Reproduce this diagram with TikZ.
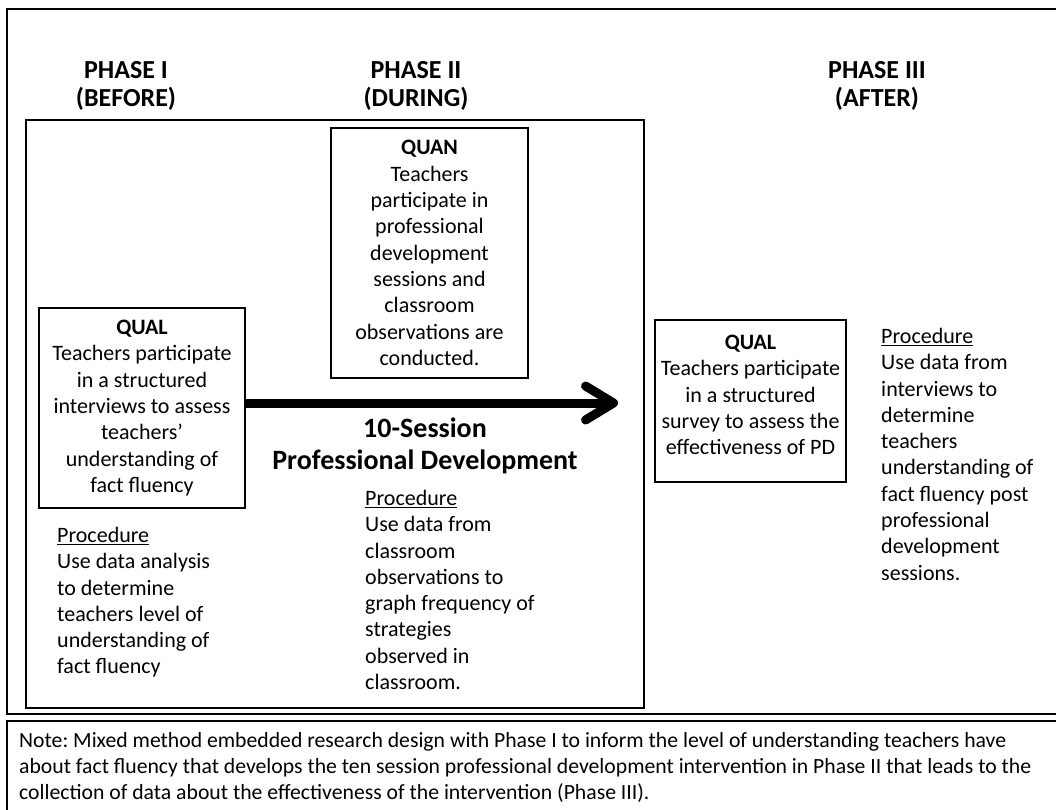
\documentclass[tikz,border=0pt]{standalone}
\usepackage{fontspec}
\setmainfont{Carlito}
\usetikzlibrary{arrows.meta}
\newcommand{\proctitle}{\underline{Procedure}}
\frenchspacing

\begin{document}
\begin{tikzpicture}[
  x=1pt, y=-1pt,
  every node/.style={inner sep=0pt},
  frame/.style={draw=black, line width=2.5pt},
  phase/.style={font=\fontsize{26}{28}\selectfont\bfseries, align=center},
  box/.style={draw=black, line width=2.8pt, align=center, font=\fontsize{22}{26.3}\selectfont},
  proc/.style={anchor=north west, align=left, font=\fontsize{22}{26.3}\selectfont},
  arrow/.style={line width=9pt, -{Straight Barb[round, length=28pt, width=34pt, line width=9pt]}}
]
  \useasboundingbox (0,0) rectangle (1056,810);

  \draw [frame] (7,9) rectangle (1070,714);
  \draw [frame] (7,721) rectangle (1070,830);
  \draw [frame] (26,120) rectangle (644,708);

  \node (ph1) [phase] at (126,86) {PHASE I\\(BEFORE)};
  \node (ph2) [phase] at (416,86) {PHASE II\\(DURING)};
  \node (ph3) [phase] at (877,86) {PHASE III\\(AFTER)};

  \node (quan) [box, minimum width=197, minimum height=250] at (429.5,253) {\textbf{QUAN}\\Teachers\\participate in\\professional\\development\\sessions and\\classroom\\observations are\\conducted.};
  \node (qualbefore) [box, minimum width=206, minimum height=200] at (142,408) {\textbf{QUAL}\\Teachers participate\\in a structured\\interviews to assess\\teachers'\\understanding of\\fact fluency};
  \node (qualafter) [box, minimum width=191, minimum height=162] at (750.5,401) {\textbf{QUAL}\\Teachers participate\\in a structured\\survey to assess the\\effectiveness of PD\\[-14pt]\mbox{}};

  \node (pd) [font=\fontsize{28}{32}\selectfont\bfseries, align=center] at (425,446) {10-Session\\Professional Development};

  \node (proc1) [proc] at (57,527) {\proctitle\\Use data analysis\\to determine\\teachers level of\\understanding of\\fact fluency};
  \node (proc2) [proc] at (365,490) {\proctitle\\Use data from\\classroom\\observations to\\graph frequency of\\strategies\\observed in\\classroom.};
  \node (proc3) [proc] at (881,328) {\proctitle\\Use data from\\interviews to\\determine\\teachers\\understanding of\\fact fluency post\\professional\\development\\sessions.};

  \node (note) [anchor=north west, align=left, font=\fontsize{21.7}{26}\selectfont] at (19,732) {Note: Mixed method embedded research design with Phase I to inform the level of understanding teachers have\\about fact fluency that develops the ten session professional development intervention in Phase II that leads to the\\collection of data about the effectiveness of the intervention (Phase III).};

  \coordinate (tip) at (618,403);
  \draw [arrow] (qualbefore.east |- tip) -- (tip);
\end{tikzpicture}
\end{document}
